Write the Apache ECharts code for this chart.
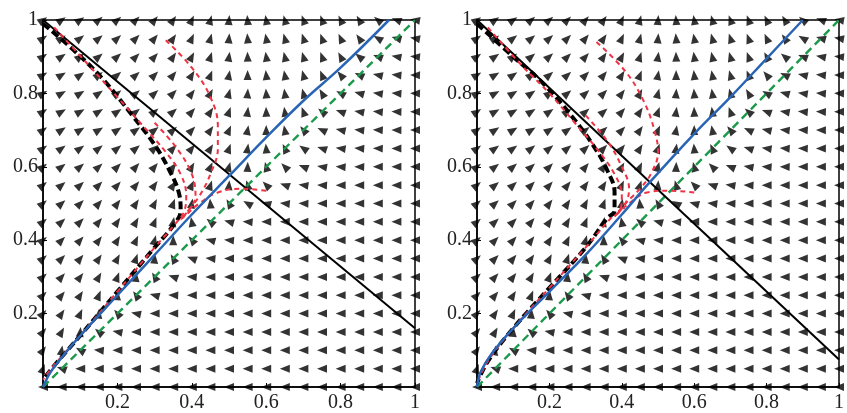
<!DOCTYPE html>
<html><head><meta charset="utf-8">
<script src="https://cdn.jsdelivr.net/npm/echarts@6/dist/echarts.min.js"></script>
<style>html,body{margin:0;padding:0;background:#fff}#c{width:847px;height:413px}</style>
</head><body><div id="c"></div>
<script>
const gridX = [0,0.05,0.1,0.15,0.2,0.25,0.3,0.35,0.4,0.45,0.5,0.55,0.6,0.65,0.7,0.75,0.8,0.85,0.9,0.95,1];
const gridY = [1,0.95,0.9,0.85,0.8,0.75,0.7,0.65,0.6,0.55,0.5,0.45,0.4,0.35,0.3,0.25,0.2,0.15,0.1,0.05,0];
// arrow directions (degrees, 0 = right, 90 = up), one row per gridY
const fieldAngles = [
[-35,-35,-35,-40,-40,-45,-50,-55,-65,-75,-85,-95,-100,-105,-110,-110,-115,-120,-140,-160,-170],
[-35,-35,-38,-40,-42,-45,-50,-55,-65,-75,-85,-95,-100,-105,-108,-110,-115,-125,-150,-165,-170],
[-35,-35,-38,-40,-42,-45,-48,-55,-62,-72,-82,-92,-98,-103,-106,-110,-118,-140,-160,-170,-175],
[-32,-32,-35,-38,-40,-42,-45,-50,-58,-68,-80,-90,-96,-100,-105,-112,-130,-155,-168,-175,-178],
[-32,-30,-32,-35,-38,-40,-42,-45,-52,-62,-75,-86,-94,-98,-105,-120,-150,-165,-172,-176,-178],
[-35,-30,-30,-32,-35,-38,-40,-42,-48,-56,-70,-83,-92,-98,-110,-140,-160,-170,-175,-178,180],
[-36,-34,-32,-32,-34,-36,-38,-42,-46,-54,-66,-80,-90,-100,-130,-155,-168,-174,-177,-179,180],
[-36,-36,-36,-38,-38,-40,-42,-46,-50,-58,-70,-82,-95,-115,-145,-162,-172,-176,-178,180,180],
[-38,-38,-40,-42,-45,-48,-50,-54,-60,-65,-75,-88,-105,-135,-158,-170,-176,-178,180,180,180],
[-40,-40,-42,-45,-48,-50,-54,-58,-65,-72,-85,-105,-135,-160,-172,-177,180,180,180,180,180],
[-40,-42,-45,-48,-52,-56,-62,-70,-80,-95,-120,-150,-165,-174,-178,180,180,180,180,180,180],
[-40,-42,-45,-50,-55,-60,-68,-80,-100,-140,-165,-175,180,180,180,180,180,180,180,180,180],
[-40,-45,-48,-52,-58,-65,-75,-90,-130,-165,-175,180,180,180,180,180,180,180,180,180,180],
[-40,-45,-50,-55,-62,-72,-85,-120,-160,-175,180,180,180,180,180,180,180,180,180,180,180],
[-42,-48,-52,-60,-70,-85,-120,-160,-175,180,180,180,180,180,180,180,180,180,180,180,180],
[-45,-50,-58,-68,-85,-125,-165,-178,180,180,180,180,180,180,180,180,180,180,180,180,180],
[-48,-55,-65,-85,-130,-168,180,180,180,180,180,180,180,180,180,180,180,180,180,180,180],
[-50,-60,-85,-140,-170,180,180,180,180,180,180,180,180,180,180,180,180,180,180,180,180],
[-55,-80,-150,-175,180,180,180,180,180,180,180,180,180,180,180,180,180,180,180,180,180],
[-70,-160,180,180,180,180,180,180,180,180,180,180,180,180,180,180,180,180,180,180,180],
[180,180,180,180,180,180,180,180,180,180,180,180,180,180,180,180,180,180,180,180,180]
];
const diagonal = [[0,0],[1,1]];
const blueL = [[0,0],[0.02,0.04],[0.05,0.08],[0.1,0.14],[0.2,0.25],[0.3,0.36],[0.4,0.47],[0.5,0.575],[0.6,0.68],[0.7,0.78],[0.8,0.87],[0.93,1]];
const blackL = [[0,1],[1,0.16]];
const dashL = [[0,0.99],[0.08,0.92],[0.16,0.84],[0.24,0.74],[0.3,0.66],[0.34,0.59],[0.365,0.53],[0.37,0.48],[0.35,0.44],[0.3,0.38],[0.2,0.26],[0.1,0.14],[0.04,0.07],[0,0.02]];
const redL1 = [[0.03,0.98],[0.12,0.88],[0.2,0.79],[0.27,0.71],[0.33,0.64],[0.37,0.58],[0.385,0.52],[0.38,0.48],[0.36,0.45],[0.3,0.38],[0.2,0.26],[0.1,0.14],[0.03,0.06],[0,0.02]];
const redL2 = [[0.33,0.945],[0.4,0.87],[0.45,0.79],[0.47,0.71],[0.47,0.65],[0.45,0.58],[0.42,0.52],[0.39,0.48],[0.37,0.455]];
const redL3 = [[0.3,0.72],[0.36,0.65],[0.4,0.58],[0.41,0.52],[0.39,0.48],[0.37,0.455]];
const redL4 = [[0.6,0.535],[0.53,0.54],[0.47,0.53],[0.42,0.5],[0.38,0.465],[0.36,0.45]];
const blueR = [[0,0],[0.01,0.04],[0.04,0.09],[0.1,0.16],[0.2,0.26],[0.3,0.36],[0.4,0.47],[0.47,0.55],[0.6,0.69],[0.7,0.79],[0.8,0.895],[0.9,1]];
const blackR = [[0,1],[1,0.075]];
const dashR = [[0,0.99],[0.1,0.9],[0.18,0.83],[0.26,0.74],[0.32,0.66],[0.36,0.59],[0.38,0.53],[0.38,0.48],[0.36,0.46],[0.3,0.38],[0.2,0.27],[0.1,0.16],[0.03,0.07],[0,0.01]];
const redR1 = [[0.03,0.98],[0.12,0.88],[0.2,0.8],[0.27,0.72],[0.33,0.65],[0.38,0.58],[0.4,0.52],[0.395,0.48],[0.37,0.46],[0.3,0.38],[0.2,0.27],[0.1,0.16],[0.03,0.07],[0,0.01]];
const redR2 = [[0.33,0.94],[0.41,0.86],[0.46,0.78],[0.49,0.7],[0.5,0.64],[0.48,0.58],[0.45,0.54],[0.41,0.5],[0.38,0.465]];
const redR3 = [[0.3,0.74],[0.36,0.67],[0.4,0.6],[0.42,0.54],[0.41,0.5],[0.38,0.465]];
const redR4 = [[0.6,0.53],[0.53,0.535],[0.47,0.53],[0.42,0.5],[0.38,0.465]];

const arrowPts = [];
// ECharts symbolRotate turns clockwise on screen here, so negate the math angle
gridY.forEach((y,i)=>gridX.forEach((x,j)=>arrowPts.push({value:[x,y],symbolRotate:-fieldAngles[i][j]})));

const lbl = {fontFamily:'Liberation Serif',fontSize:20,color:'#222',formatter:v=>v===0?'':String(v)};
function axes(idx){
  return {
    x:{type:'value',gridIndex:idx,min:0,max:1,interval:0.2,splitLine:{show:false},
      axisLine:{lineStyle:{color:'#000',width:1.5}},axisTick:{inside:true,length:4,lineStyle:{color:'#000'}},
      axisLabel:Object.assign({margin:6},lbl)},
    y:{type:'value',gridIndex:idx,min:0,max:1,interval:0.2,splitLine:{show:false},
      axisLine:{lineStyle:{color:'#000',width:1.5}},axisTick:{inside:true,length:4,lineStyle:{color:'#000'}},
      axisLabel:Object.assign({margin:5},lbl)}
  };
}
const a0=axes(0), a1=axes(1);
function line(idx,data,color,width,type,smooth){
  return {type:'line',xAxisIndex:idx,yAxisIndex:idx,data,showSymbol:false,smooth:smooth?0.4:false,silent:true,
    lineStyle:{color,width,type},z:3};
}
const series=[];
[0,1].forEach(idx=>{
  series.push({type:'scatter',xAxisIndex:idx,yAxisIndex:idx,data:arrowPts,symbol:'path://M0,0L10,4.5L0,9Z',
    symbolSize:[10,8],itemStyle:{color:'#000'},silent:true,clip:false,z:2});
});
series.push(line(0,diagonal,'#1a9a4a',2.4,[8,5]));
series.push(line(0,blackL,'#000',2,'solid'));
series.push(line(0,dashL,'#000',4,[8,4],true));
[redL1,redL2,redL3,redL4].forEach(d=>series.push(line(0,d,'#ee3344',2,[5,4],true)));
series.push(line(0,blueL,'#2a65b5',2.5,'solid',true));
series.push(line(1,diagonal,'#1a9a4a',2.4,[8,5]));
series.push(line(1,blackR,'#000',2,'solid'));
series.push(line(1,dashR,'#000',4,[8,4],true));
[redR1,redR2,redR3,redR4].forEach(d=>series.push(line(1,d,'#ee3344',2,[5,4],true)));
series.push(line(1,blueR,'#2a65b5',2.5,'solid',true));

const chart=echarts.init(document.getElementById('c'),null,{renderer:'canvas'});
chart.setOption({
  animation:false,
  grid:[
    {left:43,top:20,width:372,height:372,show:true,borderColor:'#000',borderWidth:1.5},
    {left:477,top:20,width:368,height:370,show:true,borderColor:'#000',borderWidth:1.5}
  ],
  xAxis:[a0.x,a1.x],yAxis:[a0.y,a1.y],series
});
</script></body></html>
